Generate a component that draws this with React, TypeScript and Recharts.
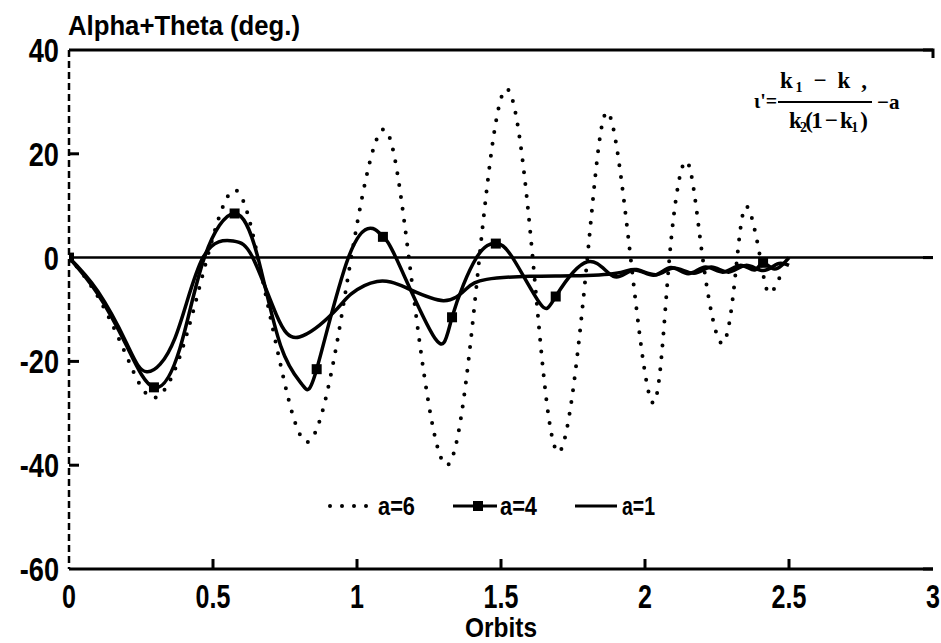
import { LineChart, Line, XAxis, YAxis, ReferenceLine, Legend } from 'recharts'

// a=6 (dotted)
const a6X = [0, 0.1, 0.2, 0.29, 0.385, 0.48, 0.575, 0.656, 0.74, 0.83, 0.915, 0.98, 1.085, 1.18, 1.31, 1.425, 1.52, 1.61, 1.7, 1.8, 1.87, 1.95, 2.03, 2.085, 2.145, 2.2, 2.27, 2.32, 2.355, 2.4, 2.43, 2.47]
const a6Y = [0, -7.5, -19, -27, -19, 0, 13, 0, -22, -35.5, -21, 0, 24.5, 0, -40, 0, 32.5, 0, -37.5, 0, 28, 0, -28, 0, 18.5, 0, -16.5, 0, 9.8, 0, -6.8, -3.5]

// a=4 (line with square markers)
const a4X = [0, 0.1, 0.2, 0.295, 0.385, 0.47, 0.575, 0.656, 0.735, 0.81, 0.86, 0.97, 1.055, 1.09, 1.135, 1.27, 1.33, 1.415, 1.482, 1.54, 1.635, 1.69, 1.8, 1.89, 1.96, 2.03, 2.09, 2.15, 2.21, 2.27, 2.33, 2.38, 2.41, 2.45, 2.5]
const a4Y = [0, -7, -17, -25, -17.5, 0, 8.5, 0, -17, -24.5, -21.5, 0, 5.6, 4, 0, -15.5, -11.5, 0, 2.7, 0, -8.8, -7.5, -0.8, -3.6, -2.4, -3.4, -1.9, -3.1, -1.8, -2.8, -1.5, -2.4, -1, -2.2, 0]
const a4Marks = [0, 0.295, 0.575, 0.86, 1.09, 1.33, 1.482, 1.69, 2.41]

// a=1
const a1X = [0, 0.1, 0.2, 0.27, 0.368, 0.465, 0.57, 0.638, 0.72, 0.8, 0.92, 0.98, 1.07, 1.17, 1.3, 1.38, 1.45, 1.6, 1.75, 1.9, 1.97, 2.04, 2.1, 2.17, 2.23, 2.29, 2.35, 2.41, 2.46, 2.5]
const a1Y = [0, -6.5, -16.5, -22, -15.5, 0, 3.2, 0, -11, -15.3, -10.5, -7, -4.6, -5.8, -8.3, -6, -4.2, -3.6, -3.5, -3, -2.3, -3.3, -2, -3, -1.8, -2.8, -1.5, -2.5, -1.2, -1.5]

const xTicks = [0, 0.5, 1, 1.5, 2, 2.5, 3]
const yTicks = [-60, -40, -20, 0, 20, 40]

const a6 = a6X.map((x, i) => ({ x, y: a6Y[i] }))
const a4 = a4X.map((x, i) => ({ x, y: a4Y[i], mark: a4Marks.includes(x) }))
const a1 = a1X.map((x, i) => ({ x, y: a1Y[i] }))

// chart box (plot area follows from the margins and axis sizes below)
const W = 941
const H = 643
const M = { top: 50, right: 8, left: 9, bottom: 0 }
const Y_AXIS_W = 60
const X_AXIS_H = 74
const PL = M.left + Y_AXIS_W
const PR = W - M.right
const PT = M.top
const PB = H - M.bottom - X_AXIS_H

const FONT = "'Liberation Sans', Arial, sans-serif"
const bold = { fontFamily: FONT, fontWeight: 700, fill: '#000' }

// bottom tick: label plus a short inward tick mark at the axis
function XTick(props: any) {
  const { x, payload } = props
  const inner = payload.value > 0 && payload.value < 3
  return (
    <g>
      {inner && <path d={`M${x},${PB} V${PB - 10}`} stroke="#000" strokeWidth={3} fill="none" />}
      <text transform={`translate(${x},${PB + 39}) scale(0.76,1)`} textAnchor="middle" style={{ ...bold, fontSize: 33 }}>
        {payload.value}
      </text>
    </g>
  )
}

// left tick: label plus short inward tick marks on the left and right frame
function YTick(props: any) {
  const { y, payload } = props
  const v = payload.value
  return (
    <g>
      {v > -60 && v < 40 && v !== 0 && (
        <path d={`M${PL},${y} H${PL + 10}`} stroke="#000" strokeWidth={3} fill="none" />
      )}
      {(v === 0 || v === 40 || v === -60) && (
        <path d={`M${PR},${y} H${PR - 10}`} stroke="#000" strokeWidth={3} fill="none" />
      )}
      <text transform={`translate(${PL - 10},${y + 12}) scale(0.8,1)`} textAnchor="end" style={{ ...bold, fontSize: 34 }}>
        {v}
      </text>
    </g>
  )
}

function SquareDot(props: any) {
  const { cx, cy, payload, index } = props
  if (!payload || !payload.mark) return <g key={index} />
  return <rect key={index} x={cx - 5} y={cy - 5} width={10} height={10} fill="#000" />
}

function renderLegend() {
  const txt = { ...bold, fontSize: 26 }
  return (
    <svg width={380} height={32}>
      {[0, 1, 2, 3].map((i) => (
        <circle key={i} cx={8 + i * 12} cy={15} r={2} fill="#000" />
      ))}
      <text x={56} y={24} textLength={37} lengthAdjust="spacingAndGlyphs" style={txt}>a=6</text>
      <line x1={131} x2={175} y1={15} y2={15} stroke="#000" strokeWidth={3} />
      <rect x={151} y={10} width={10} height={10} fill="#000" />
      <text x={178} y={24} textLength={37} lengthAdjust="spacingAndGlyphs" style={txt}>a=4</text>
      <line x1={253} x2={295} y1={15} y2={15} stroke="#000" strokeWidth={3} />
      <text x={300} y={24} textLength={33} lengthAdjust="spacingAndGlyphs" style={txt}>a=1</text>
    </svg>
  )
}

export default function App() {
  const serif = { fontFamily: "'Liberation Serif', 'DejaVu Serif', serif", fontWeight: 700, fill: '#000' }
  return (
    <div style={{ position: 'absolute', left: 0, top: 0, width: W, height: H, background: '#fff' }}>
      <LineChart width={W} height={H} margin={M}>
        <XAxis
          dataKey="x"
          type="number"
          domain={[0, 3]}
          ticks={xTicks}
          height={X_AXIS_H}
          allowDataOverflow
          axisLine={{ stroke: '#000', strokeWidth: 3 }}
          tickLine={false}
          tickSize={0}
          tickMargin={15}
          tick={XTick}
        />
        <YAxis
          type="number"
          domain={[-60, 40]}
          ticks={yTicks}
          width={Y_AXIS_W}
          allowDataOverflow
          axisLine={{ stroke: '#000', strokeWidth: 2.5, strokeDasharray: '7 4' }}
          tickLine={false}
          tickSize={0}
          tickMargin={10}
          tick={YTick}
        />
        <YAxis
          yAxisId="right"
          orientation="right"
          mirror
          type="number"
          domain={[-60, 40]}
          ticks={yTicks}
          width={0}
          allowDataOverflow
          axisLine={{ stroke: '#000', strokeWidth: 2, strokeDasharray: '3 7' }}
          tickLine={false}
          tick={false}
        />
        <ReferenceLine y={0} stroke="#000" strokeWidth={2.5} />
        <Legend
          layout="horizontal"
          verticalAlign="middle"
          align="center"
          content={renderLegend}
          wrapperStyle={{ left: 322, top: 491, width: 380, height: 32 }}
        />
        <Line
          data={a6}
          dataKey="y"
          type="natural"
          stroke="#000"
          strokeWidth={4}
          strokeDasharray="0 12"
          strokeLinecap="round"
          dot={false}
          isAnimationActive={false}
        />
        <Line
          data={a4}
          dataKey="y"
          type="natural"
          stroke="#000"
          strokeWidth={3.5}
          dot={SquareDot}
          isAnimationActive={false}
        />
        <Line
          data={a1}
          dataKey="y"
          yAxisId="right"
          type="natural"
          stroke="#000"
          strokeWidth={3.5}
          dot={false}
          isAnimationActive={false}
        />
      </LineChart>
      <svg width={W} height={H} style={{ position: 'absolute', left: 0, top: 0, pointerEvents: 'none' }}>
        {/* top edge of the frame */}
        <path d={`M${PL},${PT} H${PR} V${PT + 8}`} stroke="#000" strokeWidth={3} fill="none" />
        <text x={68} y={35} textLength={232} lengthAdjust="spacingAndGlyphs" style={{ ...bold, fontSize: 28 }}>
          Alpha+Theta (deg.)
        </text>
        <text x={465} y={637} textLength={72} lengthAdjust="spacingAndGlyphs" style={{ ...bold, fontSize: 28 }}>
          Orbits
        </text>
        <text x={754} y={108} style={{ ...serif, fontSize: 20 }}>ι'=</text>
        <text x={780} y={88} textLength={87} lengthAdjust="spacing" style={{ ...serif, fontSize: 23 }}>
          k<tspan fontSize={14} dy={4}>1</tspan><tspan dy={-4}> − k ,</tspan>
        </text>
        <line x1={778} x2={872} y1={102} y2={102} stroke="#000" strokeWidth={2} />
        <text x={789} y={128} textLength={79} lengthAdjust="spacing" style={{ ...serif, fontSize: 23 }}>
          k<tspan fontSize={14} dy={4}>2</tspan><tspan dy={-4}>(1 − k</tspan><tspan fontSize={14} dy={4}>1</tspan><tspan dy={-4}> )</tspan>
        </text>
        <text x={877} y={109} style={{ ...serif, fontSize: 21 }}>−a</text>
      </svg>
    </div>
  )
}
